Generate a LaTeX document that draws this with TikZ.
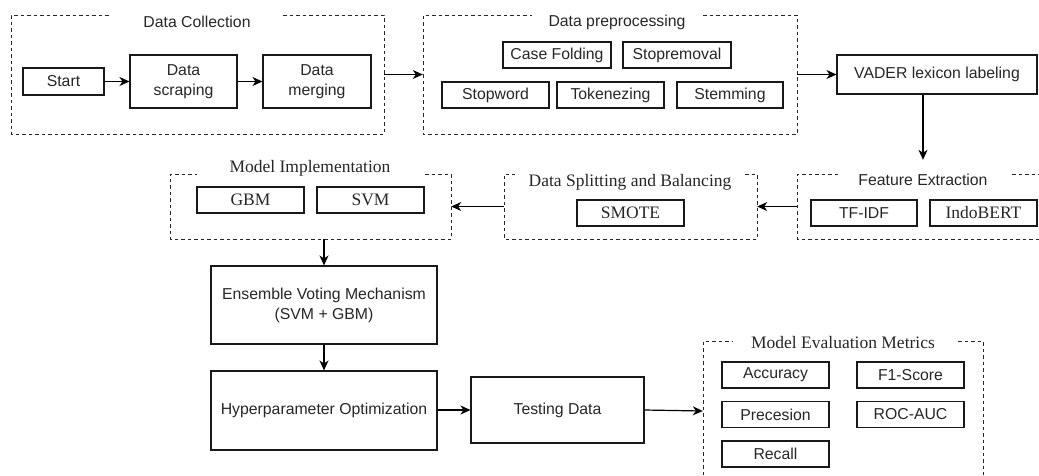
\documentclass[tikz,border=0pt]{standalone}
\usepackage{fontspec}
\setmainfont{Liberation Sans}
\newfontfamily\serifface{Liberation Serif}
\usetikzlibrary{arrows.meta}

\tikzset{
  box/.style={draw=black!90, line width=1.1pt, inner sep=0pt, align=center,
    font=\fontsize{15.8}{20}\selectfont, text=black!85},
  sbox/.style={box, font=\serifface\fontsize{17.5}{21}\selectfont},
  grp/.style={inner sep=0pt, draw=none},
  grpline/.style={draw=black!85, line width=1pt, dash pattern=on 3.5pt off 3pt},
  gtitle/.style={inner sep=0pt, font=\fontsize{15.8}{20}\selectfont, text=black!85},
  stitle/.style={inner sep=0pt, font=\serifface\fontsize{17.5}{21}\selectfont, text=black!85},
  arr/.style={draw=black, line width=1.2pt,
    -{Stealth[length=10pt, width=9pt, inset=3pt]}},
}

\begin{document}
\begin{tikzpicture}[x=1pt, y=-1pt]
\useasboundingbox (0,0) rectangle (1039,475);

% ---------- Data Collection ----------
\node[grp, minimum width=373pt, minimum height=119pt] (dc) at (197.5,74.5) {};
\draw[grpline] (283,15) -- (384,15) -- (384,134) -- (11,134) -- (11,15) -- (111,15);
\node[gtitle] (dct) at (197,22) {Data Collection};
\node[box, minimum width=81pt, minimum height=27pt] (start) at (63.5,81.5) {Start};
\node[box, minimum width=107pt, minimum height=53pt] (scrap) at (183.5,81.5) {Data\\scraping};
\node[box, minimum width=108pt, minimum height=53pt] (merge) at (317,81.5) {Data\\merging};

% ---------- Data preprocessing ----------
\node[grp, minimum width=374pt, minimum height=119pt] (dp) at (610,74.5) {};
\draw[grpline] (703,15) -- (797,15) -- (797,134) -- (423,134) -- (423,15) -- (532,15);
\node[gtitle] (dpt) at (617,22) {Data preprocessing};
\node[box, minimum width=108pt, minimum height=26pt] (case) at (557,55) {Case Folding};
\node[box, minimum width=108pt, minimum height=26pt] (stoprem) at (677,55) {Stopremoval};
\node[box, minimum width=107pt, minimum height=26pt] (stopw) at (495.5,95) {Stopword};
\node[box, minimum width=107pt, minimum height=26pt] (token) at (610.5,95) {Tokenezing};
\node[box, minimum width=106pt, minimum height=26pt] (stem) at (730,95) {Stemming};

% ---------- VADER ----------
\node[box, minimum width=200pt, minimum height=39pt] (vader) at (937,74.5) {VADER lexicon labeling};

% ---------- Feature Extraction ----------
\node[grp, minimum width=252pt, minimum height=65pt] (fe) at (923,206.5) {};
\draw[grpline] (1012,174) -- (1039,174);
\draw[grpline] (1039,239) -- (797,239) -- (797,174) -- (838,174);
\node[gtitle] (fet) at (923,180) {Feature Extraction};
\node[box, minimum width=106pt, minimum height=26pt] (tfidf) at (864,213) {TF-IDF};
\node[sbox, minimum width=107pt, minimum height=26pt] (bert) at (983.5,213) {IndoBERT};

% ---------- Data Splitting and Balancing ----------
\node[grp, minimum width=253pt, minimum height=65pt] (dsb) at (630.5,206.5) {};
\draw[grpline] (745,174) -- (757,174) -- (757,239) -- (504,239) -- (504,174) -- (515,174);
\node[stitle] (dsbt) at (630,182) {Data Splitting and Balancing};
\node[sbox, minimum width=107pt, minimum height=26pt] (smote) at (630.5,213) {SMOTE};

% ---------- Model Implementation ----------
\node[grp, minimum width=281pt, minimum height=65pt] (mi) at (310.5,206.5) {};
\draw[grpline] (425,174) -- (451,174) -- (451,239) -- (170,239) -- (170,174) -- (197,174);
\node[stitle] (mit) at (310,168) {Model Implementation};
\node[sbox, minimum width=107pt, minimum height=26pt] (gbm) at (250.5,200) {GBM};
\node[sbox, minimum width=107pt, minimum height=26pt] (svm) at (370.5,200) {SVM};

% ---------- Ensemble, optimisation, testing ----------
\node[box, minimum width=226pt, minimum height=78pt] (ens) at (324,305) {Ensemble Voting Mechanism\\(SVM + GBM)};
\node[box, minimum width=226pt, minimum height=79pt] (hyper) at (324,410.5) {Hyperparameter Optimization};
\node[box, minimum width=173pt, minimum height=66pt] (test) at (557.5,410) {Testing Data};

% ---------- Model Evaluation Metrics ----------
\node[grp, minimum width=280pt, minimum height=140pt] (mem) at (843,411) {};
\draw[grpline] (703,475) -- (703,341) -- (732,341);
\draw[grpline] (958,341) -- (983,341) -- (983,475);
\node[stitle] (memt) at (843,343) {Model Evaluation Metrics};
\node[box, minimum width=107pt, minimum height=26pt] (acc) at (775.5,375) {Accuracy};
\node[box, minimum width=107pt, minimum height=26pt] (f1) at (910.5,375) {F1-Score};
\node[box, minimum width=107pt, minimum height=26pt] (prec) at (775.5,414.5) {Precesion};
\node[box, minimum width=107pt, minimum height=26pt] (roc) at (910.5,414.5) {ROC-AUC};
\node[box, minimum width=107pt, minimum height=26pt] (rec) at (775.5,454) {Recall};

% ---------- Connectors ----------
\draw[arr] (start) -- (scrap);
\draw[arr] (scrap) -- (merge);
\draw[arr] (dc.east) -- (dp.west);
\draw[arr] (dp.east) -- (vader.west |- dp.east);
\draw[arr] (vader.south -| fe.north) -- ([yshift=14pt]fe.north);
\draw[arr] (fe.west) -- (dsb.east);
\draw[arr] (dsb.west) -- (mi.east);
\draw[arr] (ens.north |- mi.south) -- (ens.north);
\draw[arr] (ens) -- (hyper);
\draw[arr] (hyper.east |- test.west) -- (test.west);
\draw[arr] (test.east) -- (mem.west);
\end{tikzpicture}
\end{document}
